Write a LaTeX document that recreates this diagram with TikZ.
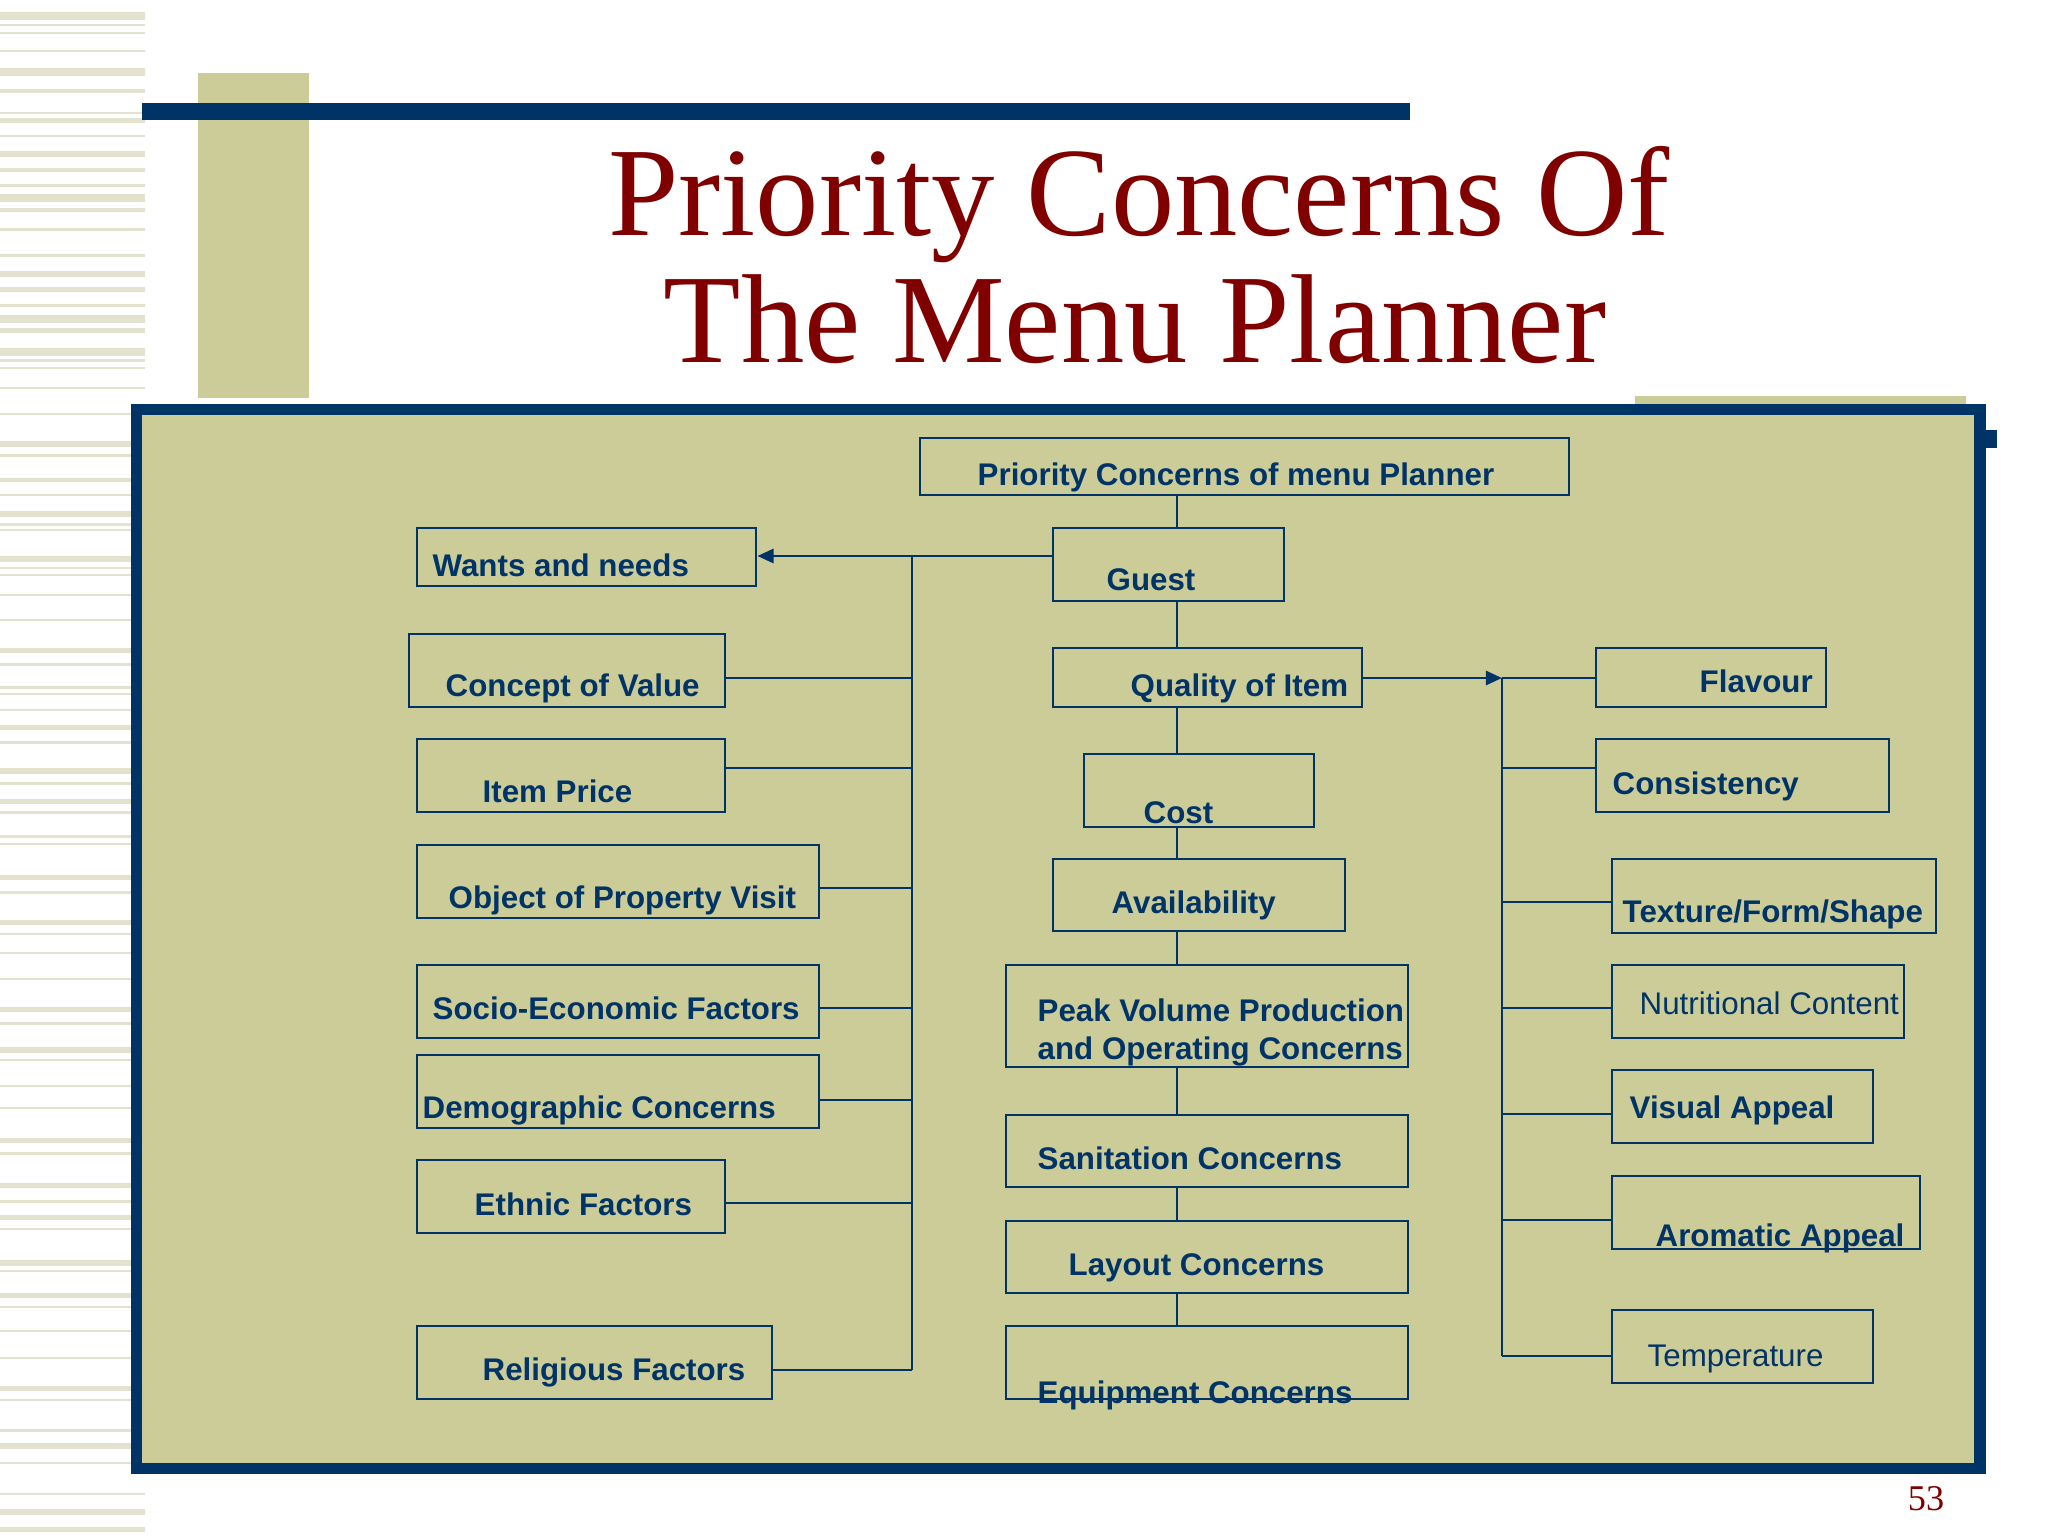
\documentclass[tikz,border=0pt]{standalone}
\usepackage{fontspec}
\setmainfont{Liberation Serif}
\setsansfont{Liberation Sans}
\usetikzlibrary{arrows.meta,fit,positioning}
\definecolor{navy}{RGB}{0,51,102}
\definecolor{khaki}{RGB}{204,204,153}
\definecolor{stripe}{RGB}{226,226,206}
\definecolor{darkred}{RGB}{128,0,0}

\begin{document}
\begin{tikzpicture}[x=0.01cm,y=-0.01cm,
		>={Triangle[length=4.6pt,width=4pt]},
		font=\sffamily\bfseries\fontsize{8.9}{10.8}\selectfont,
		box/.style={draw=navy,line width=0.8pt,fill=khaki,inner sep=0pt},
		lbl/.style={text=navy,inner sep=0pt,anchor=base west},
		lblreg/.style={lbl,font=\sffamily\mdseries\fontsize{8.9}{10.8}\selectfont},
		link/.style={draw=navy,line width=0.8pt},
		heading/.style={text=darkred,inner sep=0pt,anchor=base,font=\rmfamily\mdseries\fontsize{36}{36}\selectfont},
	]
		\useasboundingbox (0,0) rectangle (2048,1536);

		% slide background
		\foreach \y/\h in {12/8,24/2,32/2,50/2,68/8,89/4,112/2,118/5,135/2,151/6,168/4,184/3,194/8,208/4,
			228/3,254/3,271/6,287/5,304/3,315/8,328/5,348/8,359/3,367/2,387/2,413/2,441/6,454/3,478/4,
			494/2,511/6,523/3,529/2,556/6,567/2,574/2,594/2,619/2,648/5,663/3,686/3,693/2,709/2,725/5,
			741/3,768/6,782/3,799/5,811/3,835/3,843/2,875/5,891/3,920/5,933/2,952/2,978/2,1007/5,1022/3,
			1047/6,1059/2,1085/2,1107/2,1138/5,1152/3,1183/5,1200/3,1215/5,1228/2,1260/6,1270/2,1293/5,
			1306/2,1330/2,1357/2,1386/5,1399/2,1429/3,1443/6,1462/2,1493/2,1509/6,1527/5}
			\fill[stripe] (0,\y) rectangle (145,\y+\h);
		\fill[khaki] (198,73) rectangle (309,398);
		\fill[navy] (142,103) rectangle (1410,120);
		\fill[khaki] (1635,396) rectangle (1966,410);
		\fill[navy] (131,404) rectangle (1986,1474);
		\fill[navy] (1986,430) rectangle (1997,448);
		\fill[khaki] (142,415) rectangle (1974,1463);

		\node[heading] (title-a) at (1139,235) {Priority Concerns Of};
		\node[heading] (title-b) at (1135,362) {The Menu Planner};
		\node[heading,font=\rmfamily\mdseries\fontsize{10.3}{12}\selectfont] (pageno) at (1926,1510) {53};

		% middle column
		\node[box,fit={(920,438) (1569,495)}] (top) {};
		\node[box,fit={(1053,528) (1284,601)}] (guest) {};
		\node[box,fit={(1053,648) (1362,707)}] (quality) {};
		\node[box,fit={(1084,754) (1314,827)}] (cost) {};
		\node[box,fit={(1053,859) (1345,931)}] (avail) {};
		\node[box,fit={(1006,965) (1408,1067)}] (peak) {};
		\node[box,fit={(1006,1115) (1408,1187)}] (sanit) {};
		\node[box,fit={(1006,1221) (1408,1293)}] (layout) {};
		\node[box,fit={(1006,1326) (1408,1399)}] (equip) {};

		% left column
		\node[box,fit={(417,528) (756,586)}] (wants) {};
		\node[box,fit={(409,634) (725,707)}] (concept) {};
		\node[box,fit={(417,739) (725,812)}] (price) {};
		\node[box,fit={(417,845) (819,918)}] (object) {};
		\node[box,fit={(417,965) (819,1038)}] (socio) {};
		\node[box,fit={(417,1055) (819,1128)}] (demog) {};
		\node[box,fit={(417,1160) (725,1233)}] (ethnic) {};
		\node[box,fit={(417,1326) (772,1399)}] (relig) {};

		% right column
		\node[box,fit={(1596,648) (1826,707)}] (flavour) {};
		\node[box,fit={(1596,739) (1889,812)}] (consist) {};
		\node[box,fit={(1612,859) (1936,933)}] (texture) {};
		\node[box,fit={(1612,965) (1904,1038)}] (nutri) {};
		\node[box,fit={(1612,1070) (1873,1143)}] (visual) {};
		\node[box,fit={(1612,1176) (1920,1249)}] (aroma) {};
		\node[box,fit={(1612,1310) (1873,1383)}] (temp) {};

		% spine
		\coordinate (sp) at (1177,0);
		\foreach \a/\b in {top/guest,guest/quality,quality/cost,cost/avail,avail/peak,peak/sanit,sanit/layout,layout/equip}
			\draw[link] (\a.south -| sp) -- (\b.north -| sp);

		% guest branch
		\coordinate (ltop) at (912,556);
		\coordinate (lbot) at (912,1370);
		\draw[link] (ltop) -- (lbot);
		\draw[link,->] (guest.west |- ltop) -- (wants.east |- ltop);
		\foreach \n/\y in {concept/678,price/768,object/888,socio/1008,demog/1100,ethnic/1203,relig/1370}
			\draw[link] (ltop |- 0,\y) -- (\n.east |- 0,\y);

		% quality branch
		\coordinate (rtop) at (1502,678);
		\coordinate (rbot) at (1502,1356);
		\draw[link,->] (quality.east |- rtop) -- (rtop);
		\draw[link] (rtop) -- (rbot);
		\foreach \n/\y in {flavour/678,consist/768,texture/902,nutri/1008,visual/1114,aroma/1220,temp/1356}
			\draw[link] (rtop |- 0,\y) -- (\n.west |- 0,\y);

		% labels
		\node[lbl] (top-t) at (977,485) {Priority Concerns of menu Planner};
		\node[lbl] (guest-t) at (1106,590) {Guest};
		\node[lbl] (quality-t) at (1130,696) {Quality of Item};
		\node[lbl] (cost-t) at (1143,823) {Cost};
		\node[lbl] (avail-t) at (1111,913) {Availability};
		\node[lbl,align=left] (peak-t) at (1037,1059) {Peak Volume Production\\and Operating Concerns};
		\node[lbl] (sanit-t) at (1037,1169) {Sanitation Concerns};
		\node[lbl] (layout-t) at (1068,1275) {Layout Concerns};
		\node[lbl] (equip-t) at (1037,1403) {Equipment Concerns};

		\node[lbl] (wants-t) at (432,576) {Wants and needs};
		\node[lbl] (concept-t) at (445,696) {Concept of Value};
		\node[lbl] (price-t) at (482,802) {Item Price};
		\node[lbl] (object-t) at (448,908) {Object of Property Visit};
		\node[lbl] (socio-t) at (432,1019) {Socio-Economic Factors};
		\node[lbl] (demog-t) at (422,1118) {Demographic Concerns};
		\node[lbl] (ethnic-t) at (474,1215) {Ethnic Factors};
		\node[lbl] (relig-t) at (482,1380) {Religious Factors};

		\node[lbl] (flavour-t) at (1699,692) {Flavour};
		\node[lbl] (consist-t) at (1612,794) {Consistency};
		\node[lbl] (texture-t) at (1622,922) {Texture/Form/Shape};
		\node[lblreg] (nutri-t) at (1639,1014) {Nutritional Content};
		\node[lbl] (visual-t) at (1629,1118) {Visual Appeal};
		\node[lbl] (aroma-t) at (1655,1246) {Aromatic Appeal};
		\node[lblreg] (temp-t) at (1647,1366) {Temperature};
	\end{tikzpicture}
\end{document}
